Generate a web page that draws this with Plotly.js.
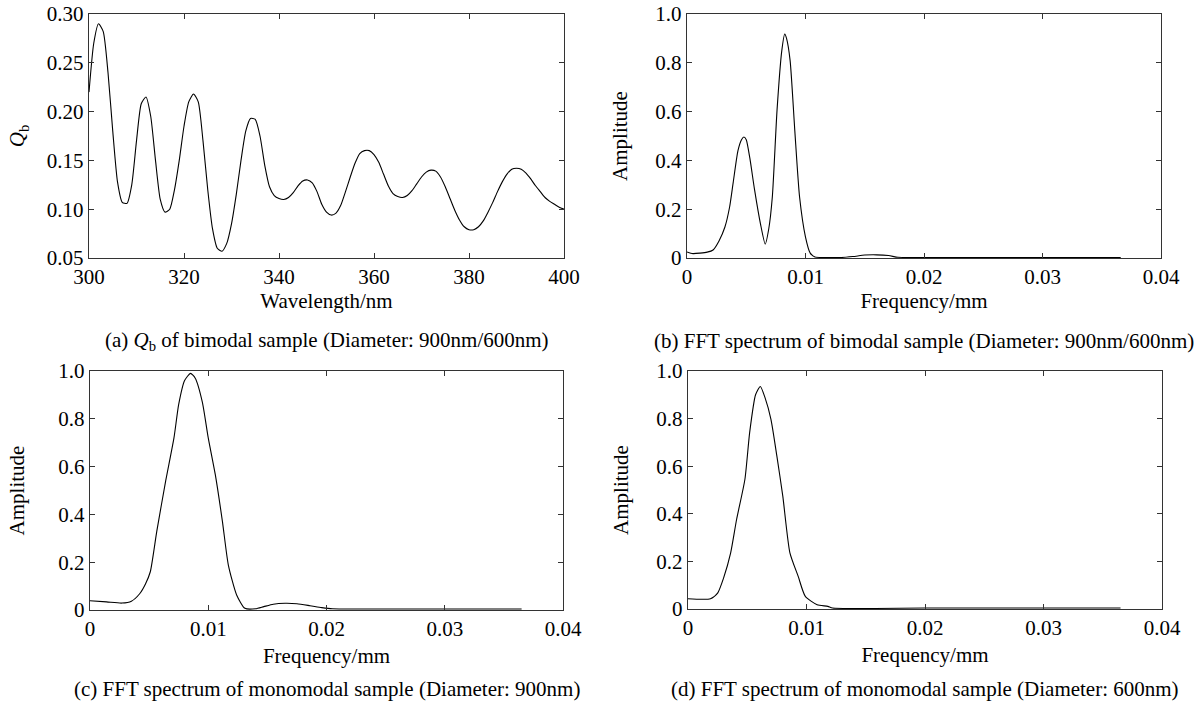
<!DOCTYPE html>
<html>
<head>
<meta charset="utf-8">
<script src="https://cdn.plot.ly/plotly-3.0.1.min.js"></script>
<style>html,body{margin:0;padding:0;background:#fff;}#chart{width:1197px;height:703px;}</style>
</head>
<body>
<div id="chart"></div>
<script>
// (a) Q_b of bimodal sample
const wavelength = [300,301,302,303,304,305,306,307,308,309,310,311,312,313,314,315,316,317,318,319,320,321,322,323,324,325,326,327,328,329,330,331,332,333,334,335,336,337,338,339,340,341,342,343,344,345,346,347,348,349,350,351,352,353,354,355,356,357,358,359,360,361,362,363,364,365,366,367,368,369,370,371,372,373,374,375,376,377,378,379,380,381,382,383,384,385,386,387,388,389,390,391,392,393,394,395,396,397,398,399,400];
const qb = [0.220,0.270,0.290,0.282,0.240,0.180,0.128,0.107,0.106,0.125,0.170,0.208,0.215,0.195,0.150,0.110,0.097,0.100,0.120,0.150,0.185,0.210,0.218,0.210,0.170,0.120,0.080,0.060,0.057,0.065,0.085,0.115,0.150,0.180,0.193,0.192,0.175,0.145,0.123,0.114,0.111,0.110,0.112,0.117,0.124,0.129,0.130,0.127,0.118,0.105,0.097,0.094,0.096,0.104,0.118,0.133,0.147,0.157,0.160,0.160,0.156,0.148,0.136,0.124,0.116,0.113,0.112,0.114,0.119,0.126,0.133,0.138,0.140,0.139,0.133,0.123,0.111,0.099,0.089,0.082,0.079,0.079,0.082,0.088,0.097,0.107,0.118,0.128,0.136,0.141,0.142,0.141,0.137,0.131,0.124,0.118,0.112,0.108,0.105,0.102,0.100];

// (b) FFT spectrum of bimodal sample
const freqB = [0,0.0005,0.0011,0.0017,0.0022,0.0027,0.0032,0.0036,0.0039,0.0043,0.0046,0.0048,0.0050,0.0053,0.0057,0.0062,0.0066,0.0069,0.0072,0.0076,0.0080,0.00825,0.0084,0.0087,0.0091,0.0095,0.0100,0.0104,0.0108,0.0115,0.0130,0.0140,0.0150,0.0160,0.0170,0.0178,0.0190,0.0250,0.0300,0.0366];
const ampB = [0.025,0.018,0.020,0.024,0.033,0.070,0.127,0.210,0.310,0.440,0.485,0.496,0.485,0.410,0.280,0.140,0.057,0.120,0.250,0.607,0.850,0.918,0.900,0.810,0.520,0.250,0.086,0.020,0.004,0.002,0.002,0.006,0.012,0.013,0.010,0.003,0.002,0.002,0.002,0.002];

// (c) FFT spectrum of monomodal sample, 900nm
const freqC = [0,0.0014,0.0027,0.0035,0.0042,0.0047,0.0051,0.00565,0.0064,0.0071,0.0075,0.0080,0.0085,0.0089,0.0095,0.0100,0.0106,0.0112,0.0117,0.0124,0.0131,0.0140,0.0147,0.0155,0.0165,0.0175,0.0186,0.0196,0.0205,0.0250,0.0300,0.0365];
const ampC = [0.039,0.034,0.029,0.037,0.068,0.110,0.160,0.330,0.540,0.720,0.860,0.960,0.990,0.970,0.870,0.720,0.565,0.370,0.188,0.063,0.007,0.005,0.014,0.024,0.028,0.026,0.018,0.010,0.005,0.004,0.004,0.004];

// (d) FFT spectrum of monomodal sample, 600nm
const freqD = [0,0.0019,0.0025,0.0030,0.0036,0.0041,0.0048,0.0052,0.0057,0.0061,0.0065,0.0070,0.0075,0.0080,0.0086,0.0093,0.0099,0.0109,0.0118,0.0122,0.0200,0.0300,0.0365];
const ampD = [0.043,0.043,0.067,0.130,0.236,0.376,0.544,0.740,0.900,0.935,0.888,0.797,0.642,0.474,0.236,0.137,0.053,0.018,0.011,0.004,0.004,0.004,0.004];

// tick labels
const qbTickVals = [0.05,0.10,0.15,0.20,0.25,0.30];
const qbTickText = ["0.05","0.10","0.15","0.20","0.25","0.30"];
const wlTickVals = [300,320,340,360,380,400];
const wlTickText = ["300","320","340","360","380","400"];
const freqTickVals = [0,0.01,0.02,0.03,0.04];
const freqTickText = ["0","0.01","0.02","0.03","0.04"];
const ampTickVals = [0,0.2,0.4,0.6,0.8,1.0];
const ampTickText = ["0","0.2","0.4","0.6","0.8","1.0"];

const captions = [
  "(a) <i>Q</i><sub>b</sub> of bimodal sample (Diameter: 900nm/600nm)",
  "(b) FFT spectrum of bimodal sample (Diameter: 900nm/600nm)",
  "(c) FFT spectrum of monomodal sample (Diameter: 900nm)",
  "(d) FFT spectrum of monomodal sample (Diameter: 600nm)"
];

const W = 1197, H = 703;
const FONT = "Liberation Serif";
const line = {color:'#000', width:1.1, shape:'spline', smoothing:0.6};

const traces = [
  {x: wavelength, y: qb, xaxis:'x', yaxis:'y', mode:'lines', line: line},
  {x: freqB, y: ampB, xaxis:'x2', yaxis:'y2', mode:'lines', line: line},
  {x: freqC, y: ampC, xaxis:'x3', yaxis:'y3', mode:'lines', line: line},
  {x: freqD, y: ampD, xaxis:'x4', yaxis:'y4', mode:'lines', line: line}
];

function px2x(a,b){ return [a/W, b/W]; }
function py2y(top,bottom){ return [1-bottom/H, 1-top/H]; }

function axisBase(extra){
  return Object.assign({
    showline:true, linecolor:'#333', linewidth:1.2, mirror:'ticks',
    ticks:'inside', ticklen:5, tickwidth:1, tickcolor:'#333',
    showgrid:false, zeroline:false, fixedrange:true,
    tickfont:{family:FONT, size:21, color:'#000'},
    tickmode:'array'
  }, extra);
}

const titleFont = {family:FONT, size:21, color:'#000'};

const layout = {
  width: W, height: H,
  margin:{l:0,r:0,t:0,b:0},
  paper_bgcolor:'#fff', plot_bgcolor:'#fff',
  showlegend:false,
  font:{family:FONT, color:'#000'},
  xaxis: axisBase({domain:px2x(89,564), anchor:'y', range:[300,400], tickvals:wlTickVals, ticktext:wlTickText,
    title:{text:'Wavelength/nm', font:titleFont, standoff:4}}),
  yaxis: axisBase({domain:py2y(14,258), anchor:'x', range:[0.05,0.30], tickvals:qbTickVals, ticktext:qbTickText,
    title:{text:'<i>Q</i><sub>b</sub>', font:titleFont, standoff:16}}),
  xaxis2: axisBase({domain:px2x(687,1161), anchor:'y2', range:[0,0.04], tickvals:freqTickVals, ticktext:freqTickText,
    title:{text:'Frequency/mm', font:titleFont, standoff:4}}),
  yaxis2: axisBase({domain:py2y(14,258), anchor:'x2', range:[0,1], tickvals:ampTickVals, ticktext:ampTickText,
    title:{text:'Amplitude', font:titleFont, standoff:22}}),
  xaxis3: axisBase({domain:px2x(90,563), anchor:'y3', range:[0,0.04], tickvals:freqTickVals, ticktext:freqTickText,
    title:{text:'Frequency/mm', font:titleFont, standoff:7}}),
  yaxis3: axisBase({domain:py2y(371,610), anchor:'x3', range:[0,1], tickvals:ampTickVals, ticktext:ampTickText,
    title:{text:'Amplitude', font:titleFont, standoff:28}}),
  xaxis4: axisBase({domain:px2x(688,1162), anchor:'y4', range:[0,0.04], tickvals:freqTickVals, ticktext:freqTickText,
    title:{text:'Frequency/mm', font:titleFont, standoff:7}}),
  yaxis4: axisBase({domain:py2y(371,609), anchor:'x4', range:[0,1], tickvals:ampTickVals, ticktext:ampTickText,
    title:{text:'Amplitude', font:titleFont, standoff:22}}),
  annotations: [
    {text:captions[0], x:(89+564)/2/W, y:1-341/H, xref:'paper', yref:'paper', showarrow:false, xanchor:'center', yanchor:'middle', font:titleFont},
    {text:captions[1], x:(687+1161)/2/W, y:1-341/H, xref:'paper', yref:'paper', showarrow:false, xanchor:'center', yanchor:'middle', font:titleFont},
    {text:captions[2], x:(90+563)/2/W, y:1-689/H, xref:'paper', yref:'paper', showarrow:false, xanchor:'center', yanchor:'middle', font:titleFont},
    {text:captions[3], x:(688+1162)/2/W, y:1-689/H, xref:'paper', yref:'paper', showarrow:false, xanchor:'center', yanchor:'middle', font:titleFont}
  ]
};

Plotly.newPlot('chart', traces, layout, {staticPlot:true, displayModeBar:false});
</script>
</body>
</html>
